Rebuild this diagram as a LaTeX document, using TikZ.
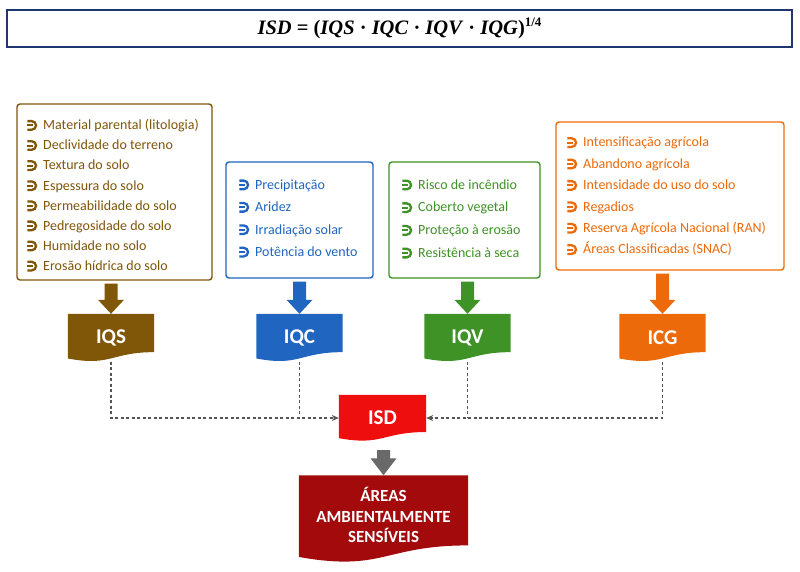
\documentclass[tikz,border=0pt]{standalone}
\usepackage{fontspec}
\setmainfont{Carlito}
\newfontfamily\formfont{Liberation Serif}
\usetikzlibrary{calc,backgrounds,arrows.meta}

\definecolor{cbrown}{RGB}{128,86,8}
\definecolor{cblue}{RGB}{32,102,192}
\definecolor{cgreen}{RGB}{62,146,38}
\definecolor{corange}{RGB}{236,106,10}
\definecolor{cred}{RGB}{238,14,14}
\definecolor{cdarkred}{RGB}{162,10,12}
\definecolor{cgrayarrow}{RGB}{105,105,105}
\definecolor{cdash}{RGB}{85,85,85}
\definecolor{cnavy}{RGB}{30,55,110}

\newcommand{\bulsym}{\tikz[baseline=0pt, x=1pt, y=1pt]{%
  \draw[color=., line width=2.3pt] (0,8.6) -- (4.4,8.6) arc(90:-90:4.3) -- (0,0);
  \draw[color=., line width=2pt] (0,4.3) -- (5.5,4.3);}}
\newcommand{\bul}[1]{\makebox[17pt][l]{\bulsym}#1}

\newcommand{\docfill}[2]{%
  \fill[#2] (#1.north west) -- (#1.north east) -- ($(#1.north east)!0.802!(#1.south east)$)
    .. controls ($(#1.north)!0.802!(#1.south)$) and ($(#1.north)!1.107!(#1.south)$) ..
    ($(#1.north west)!0.934!(#1.south west)$) -- cycle;}

\newcommand{\blockarrow}[5]{%
  \fill[#3] let \p1=(#1.south -| #2.north), \p2=(#2.north) in
    (\x1-6.5pt,\y1-#4) -- (\x1+6.5pt,\y1-#4) -- (\x1+6.5pt,\y2+#5) -- (\x1+13pt,\y2+#5)
    -- (\x1,\y2) -- (\x1-13pt,\y2+#5) -- (\x1-6.5pt,\y2+#5) -- cycle;}

\tikzset{
  frame/.style={draw=#1, line width=1.4pt, rounded corners=3pt, fill=white, inner sep=0pt},
  listtext/.style={text=#1, anchor=west, align=left, inner sep=0pt},
  docnode/.style={minimum width=86, minimum height=47.4, inner sep=0pt, text=white,
    font=\bfseries\fontsize{21}{21}\selectfont},
  dashconn/.style={draw=cdash, line width=1.1pt, dash pattern=on 3pt off 2.5pt},
  tip/.style={-{Stealth[length=7pt,width=6pt]}},
}

\begin{document}
\begin{tikzpicture}[x=1pt,y=-1pt]
\useasboundingbox (0,0) rectangle (800,571);

% title
\node[draw=cnavy, line width=1.8pt, minimum width=785, minimum height=37, inner sep=0pt] (title) at (399.5,28.5)
  {\formfont\bfseries\fontsize{20.5}{20.5}\selectfont \textit{ISD} = (\textit{IQS} · \textit{IQC} · \textit{IQV} · \textit{IQG})\raisebox{8pt}{\fontsize{13}{13}\selectfont 1/4}};

% list boxes
\node[frame=cbrown, minimum width=195, minimum height=176] (f1) at (114.5,192) {};
\node[listtext=cbrown, font=\fontsize{14}{20.1}\selectfont] (l1) at (26,195.5) {%
  \bul{Material parental (litologia)}\\ \bul{Declividade do terreno}\\ \bul{Textura do solo}\\
  \bul{Espessura do solo}\\ \bul{Permeabilidade do solo}\\ \bul{Pedregosidade do solo}\\
  \bul{Humidade no solo}\\ \bul{Erosão hídrica do solo}};

\node[frame=cblue, minimum width=147, minimum height=116] (f2) at (299.5,220) {};
\node[listtext=cblue, font=\fontsize{14}{22.4}\selectfont] (l2) at (238,218.5) {%
  \bul{Precipitação}\\ \bul{Aridez}\\ \bul{Irradiação solar}\\ \bul{Potência do vento}};

\node[frame=cgreen, minimum width=151, minimum height=116] (f3) at (464.5,220) {};
\node[listtext=cgreen, font=\fontsize{14}{22.7}\selectfont] (l3) at (401,219) {%
  \bul{Risco de incêndio}\\ \bul{Coberto vegetal}\\ \bul{Proteção à erosão}\\ \bul{Resistência à seca}};

\node[frame=corange, minimum width=228, minimum height=148] (f4) at (670,196) {};
\node[listtext=corange, font=\fontsize{14}{21.4}\selectfont] (l4) at (566,196.5) {%
  \bul{Intensificação agrícola}\\ \bul{Abandono agrícola}\\ \bul{Intensidade do uso do solo}\\
  \bul{Regadios}\\ \bul{Reserva Agrícola Nacional (RAN)}\\ \bul{Áreas Classificadas (SNAC)}};

% document nodes
\node[docnode] (iqs) at (111,337.7) {IQS};
\node[docnode] (iqc) at (299.5,337.7) {IQC};
\node[docnode] (iqv) at (467.5,337.7) {IQV};
\node[docnode] (icg) at (662.5,337.7) {ICG};
\node[docnode, minimum width=87, minimum height=46] (isd) at (382.5,418) {ISD};
\node[docnode, minimum width=169, minimum height=87,
  font=\bfseries\fontsize{17}{20.5}\selectfont] (areas) at (383.5,519)
  {\begin{tabular}{@{}c@{}}ÁREAS\\AMBIENTALMENTE\\SENSÍVEIS\\[2pt]\end{tabular}};

\begin{pgfonlayer}{background}
  \docfill{iqs}{cbrown}
  \docfill{iqc}{cblue}
  \docfill{iqv}{cgreen}
  \docfill{icg}{corange}
  \docfill{isd}{cred}
  \docfill{areas}{cdarkred}
\end{pgfonlayer}

% block arrows
\blockarrow{f1}{iqs}{cbrown}{3pt}{14pt}
\blockarrow{f2}{iqc}{cblue}{3pt}{14pt}
\blockarrow{f3}{iqv}{cgreen}{3pt}{14pt}
\blockarrow{f4}{icg}{corange}{3pt}{14pt}
\blockarrow{isd}{areas}{cgrayarrow}{9pt}{17pt}

% dashed connectors
\draw[dashconn, tip] (iqs.south) |- (isd.west);
\draw[dashconn] (iqc.south) -- (iqc.south |- isd.west);
\draw[dashconn] (iqv.south) -- (iqv.south |- isd.east);
\draw[dashconn, tip] (icg.south) |- (isd.east);
\end{tikzpicture}
\end{document}
